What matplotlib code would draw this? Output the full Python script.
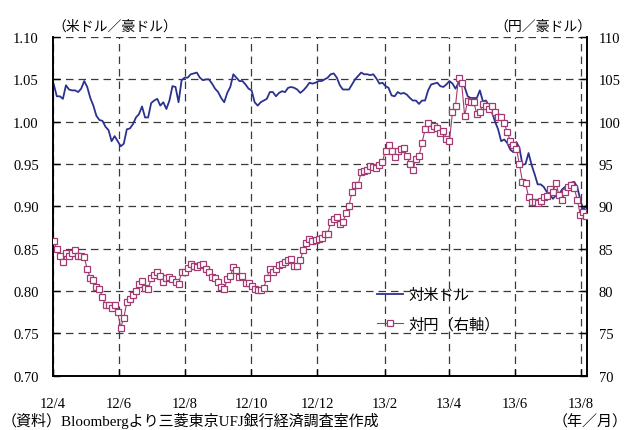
import matplotlib
matplotlib.use("Agg")
import matplotlib.pyplot as plt
import matplotlib.dates as mdates
import numpy as np
import pandas as pd
from matplotlib.lines import Line2D

plt.rcParams["font.family"] = ["Liberation Serif", "Noto Sans CJK JP"]

# AUD/USD (left axis), roughly every other business day, Apr 2012 - Aug 2013
aud_usd = [
    1.044, 1.030, 1.030, 1.027, 1.043, 1.038, 1.037, 1.037, 1.035, 1.039,
    1.048, 1.041, 1.028, 1.019, 1.007, 1.002, 1.001, 0.994, 0.990, 0.977,
    0.983, 0.977, 0.971, 0.974, 0.991, 0.992, 0.997, 1.005, 1.009, 1.018,
    1.005, 1.005, 1.022, 1.025, 1.027, 1.019, 1.023, 1.015, 1.025, 1.042,
    1.041, 1.023, 1.049, 1.052,
    1.052, 1.056, 1.057, 1.058, 1.052, 1.049, 1.050, 1.050, 1.045, 1.039,
    1.035, 1.028, 1.023, 1.034, 1.041, 1.056, 1.052, 1.048, 1.048, 1.044,
    1.039, 1.037, 1.023, 1.019, 1.023, 1.025, 1.027, 1.035, 1.035, 1.030,
    1.034, 1.036, 1.035, 1.040, 1.041, 1.040, 1.038, 1.034, 1.037, 1.041,
    1.046, 1.045, 1.046, 1.048,
    1.048, 1.050, 1.052, 1.056, 1.057, 1.052, 1.043, 1.038, 1.038, 1.038,
    1.044, 1.050, 1.054, 1.058, 1.056, 1.056, 1.055, 1.056, 1.051, 1.045,
    1.046, 1.042, 1.040, 1.031, 1.030, 1.035, 1.033, 1.034, 1.032, 1.028,
    1.025, 1.025, 1.021, 1.025, 1.025, 1.037, 1.044, 1.045, 1.046, 1.042,
    1.041, 1.044, 1.048, 1.045,
    1.039, 1.046, 1.046, 1.041, 1.030, 1.028, 1.028, 1.028, 1.037, 1.024,
    1.025, 1.019, 1.011, 1.000, 0.991, 0.977, 0.979, 0.975, 0.967, 0.964,
    0.976, 0.969, 0.949, 0.950, 0.963, 0.949, 0.938, 0.926, 0.926, 0.923,
    0.917, 0.914, 0.909, 0.913, 0.914, 0.920, 0.923, 0.925, 0.928, 0.929,
    0.923, 0.908, 0.896, 0.901,
]

# AUD/JPY (right axis), same dates
aud_jpy = [
    85.9, 85.0, 84.2, 83.4, 84.5, 84.2, 84.5, 84.8, 84.2, 84.1,
    84.0, 82.6, 81.5, 81.3, 80.5, 80.2, 79.3, 78.3, 78.3, 78.0,
    78.3, 77.5, 75.7, 76.8, 78.7, 79.1, 79.5, 80.0, 80.8, 81.2,
    80.4, 80.2, 81.5, 81.9, 82.3, 81.8, 81.1, 81.6, 81.7, 81.4,
    81.1, 80.8, 82.3, 82.3,
    82.7, 83.2, 83.0, 82.8, 83.1, 83.2, 82.6, 82.3, 81.7, 81.5,
    81.1, 80.5, 80.2, 81.4, 81.8, 82.8, 82.5, 81.7, 81.8, 80.9,
    81.0, 80.6, 80.3, 80.1, 80.1, 80.4, 81.5, 82.6, 82.2, 82.6,
    83.1, 83.2, 83.4, 83.7, 83.8, 83.0, 83.0, 83.7, 84.8, 85.7,
    86.2, 85.9, 86.0, 86.2,
    86.3, 86.7, 86.7, 88.2, 88.5, 88.7, 87.9, 88.1, 89.2, 90.1,
    91.7, 92.5, 92.5, 94.1, 94.2, 94.3, 94.8, 94.6, 94.5, 94.9,
    95.3, 96.6, 97.3, 96.6, 95.8, 96.5, 96.8, 96.9, 96.0, 95.0,
    94.3, 95.6, 95.9, 97.5, 99.1, 99.8, 99.1, 99.5, 99.3, 98.7,
    98.9, 98.0, 97.7, 101.1,
    101.9, 105.2, 104.6, 100.7, 102.5, 102.3, 102.3, 100.9, 101.1, 102.1,
    101.8, 101.5, 101.8, 101.2, 100.5, 100.5, 99.8, 98.8, 97.7, 97.3,
    96.8, 95.0, 92.9, 92.8, 91.1, 90.5, 90.5, 90.4, 90.6, 91.1,
    91.2, 92.0, 91.7, 92.8, 91.3, 90.7, 91.7, 92.3, 92.5, 92.2,
    90.8, 89.0, 89.3, 88.9,
]

tick_dates = ["2012-04-01", "2012-06-01", "2012-08-01", "2012-10-01", "2012-12-01",
              "2013-02-01", "2013-04-01", "2013-06-01", "2013-08-01"]
tick_labels = ["12/4", "12/6", "12/8", "12/10", "12/12", "13/2", "13/4", "13/6", "13/8"]

dates = pd.date_range("2012-04-02", "2013-08-06", periods=len(aud_usd))

BLUE = "#2b3190"
PINK = "#a33b72"
GRID = "#3a3a3a"
dash = (0, (6, 4))

fig = plt.figure(figsize=(6.31, 4.31), dpi=100)
ax = fig.add_axes([0.0835, 0.1258, 0.8475, 0.786])
ax2 = ax.twinx()

ax.plot(dates, aud_usd, color=BLUE, lw=1.3, zorder=3)
ax2.plot(dates, aud_jpy, color=PINK, lw=0.8, marker="s", markersize=4.5,
         markerfacecolor="white", markeredgecolor=PINK, markeredgewidth=0.9, zorder=3)

ax.set_xlim(pd.Timestamp("2012-04-01"), pd.Timestamp("2013-08-07"))
ax.set_ylim(0.70, 1.10)
ax2.set_ylim(70, 110)

yl = np.arange(0.70, 1.1001, 0.05)
ax.set_yticks(yl)
ax.set_yticklabels([f"{v:.2f}" for v in yl])
yr = np.arange(70, 111, 5)
ax2.set_yticks(yr)
ax2.set_yticklabels([str(v) for v in yr])

tpos = [mdates.date2num(pd.Timestamp(d)) for d in tick_dates]
ax.set_xticks(tpos)
ax.set_xticklabels(tick_labels)

ax.grid(True, which="major", color=GRID, lw=0.9, linestyle=dash)
ax.set_axisbelow(True)

for a in (ax, ax2):
    a.spines["top"].set_visible(False)
    for s in ("left", "right", "bottom"):
        a.spines[s].set_linewidth(1.2)
        a.spines[s].set_color("black")

ax.tick_params(axis="y", direction="in", length=5, width=1, labelsize=10.5, pad=10)
ax.tick_params(axis="x", direction="in", length=5, width=1, labelsize=10.5, pad=15)
ax2.tick_params(axis="y", direction="in", length=5, width=1, labelsize=10.5, pad=8)

fig.text(0.083, 1 - 27 / 431, "（米ドル／豪ドル）", fontsize=10, ha="left", va="center")
fig.text(0.937, 1 - 27 / 431, "（円／豪ドル）", fontsize=10, ha="right", va="center")
fig.text(0.003, 4.8 / 431, "（資料）Bloombergより三菱東京UFJ銀行経済調査室作成", fontsize=10.8,
         ha="left", va="baseline")
fig.text(0.995, 4.8 / 431, "（年／月）", fontsize=10.8, ha="right", va="baseline")

handles = [
    Line2D([], [], color=BLUE, lw=1.3),
    Line2D([], [], color=PINK, lw=0.8, marker="s", markersize=4.5,
           markerfacecolor="white", markeredgecolor=PINK, markeredgewidth=0.9),
]
leg = ax2.legend(handles, ["対米ドル", "対円（右軸）"], loc="upper left",
                 bbox_to_anchor=(374 / 631, 1 - 286 / 431), bbox_transform=fig.transFigure,
                 frameon=False, fontsize=11, handlelength=1.7, handletextpad=0.35,
                 labelspacing=0.95, borderpad=0.2, borderaxespad=0)

fig.savefig("out.png", dpi=100)
